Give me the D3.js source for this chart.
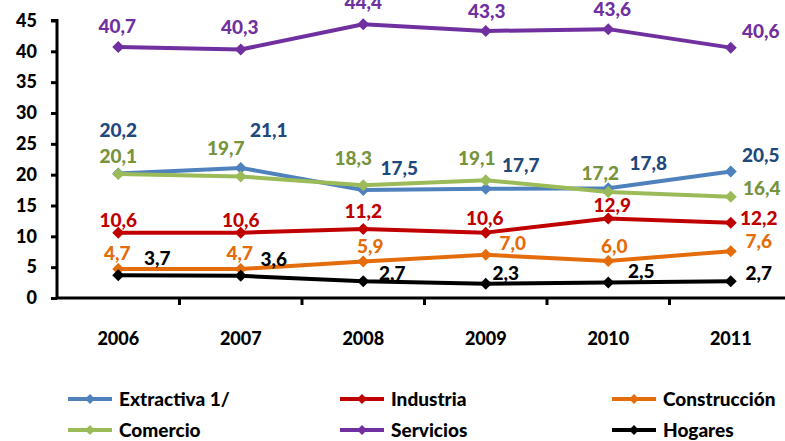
<!DOCTYPE html>
<html>
<head>
<meta charset="utf-8">
<script src="https://cdn.jsdelivr.net/npm/d3@7"></script>
<style>
  body { margin: 0; background: #fff; }
  svg text { font-family: Lato, "Open Sans", sans-serif; font-weight: 900; }
</style>
</head>
<body>
<svg id="chart" width="785" height="441"></svg>
<script>
const years = ['2006', '2007', '2008', '2009', '2010', '2011']
const yTicks = [0, 5, 10, 15, 20, 25, 30, 35, 40, 45]

const extractiva   = [20.2, 21.1, 17.5, 17.7, 17.8, 20.5]
const industria    = [10.6, 10.6, 11.2, 10.6, 12.9, 12.2]
const construccion = [4.7, 4.7, 5.9, 7.0, 6.0, 7.6]
const comercio     = [20.1, 19.7, 18.3, 19.1, 17.2, 16.4]
const servicios    = [40.7, 40.3, 44.4, 43.3, 43.6, 40.6]
const hogares      = [3.7, 3.6, 2.7, 2.3, 2.5, 2.7]

const seriesNames = ['Extractiva 1/', 'Industria', 'Construcción', 'Comercio', 'Servicios', 'Hogares']
const seriesValues = [extractiva, industria, construccion, comercio, servicios, hogares]

// line colour, label colour
const lineColors  = ['#4f81bd', '#c00000', '#e46c0a', '#9bbb59', '#7030a0', '#000000']
const labelColors = ['#1f497d', '#c00000', '#e46c0a', '#77933c', '#7030a0', '#000000']

// where each data label sits relative to its point [dx, dy]
const labelOffsets = [
    [[0, -36], [28, -31], [36, -15], [35, -17], [40, -18], [30, -10]],
    [[0, -6], [0, -6], [0, -11], [-1, -8], [4, -6], [28, 2]],
    [[-1, -9], [-1, -9], [7, -9], [27, -5], [6, -8], [28, -3]],
    [[0, -11], [-15, -22], [-10, -20], [-9, -15], [-8, -12], [31, -2]],
    [[-1, -14], [-1, -15], [0, -15], [1, -13], [4, -13], [30, -10]],
    [[39, -10], [33, -10], [29, -1], [20, -4], [33, -5], [28, -1]]
]

const svg = d3.select('#chart')

const x = d3.scaleBand().domain(years).range([57, 792])
const y = d3.scaleLinear().domain([0, 45]).range([298, 20.5])
const cx = d => x(d) + x.bandwidth() / 2

const diamond = s => `M0,${-s}L${s},0L0,${s}L${-s},0Z`

// y axis
const yAxis = svg.append('g')
    .attr('transform', 'translate(57,0)')
    .call(d3.axisLeft(y).tickValues(yTicks).tickSize(6).tickPadding(14).tickFormat(d3.format('d')))
yAxis.select('.domain').attr('stroke-width', 3).attr('d', `M-6,${y(45)}H0V${y(0)}`)
yAxis.selectAll('.tick line').attr('stroke-width', 3)
yAxis.selectAll('.tick text').attr('font-size', 18).attr('fill', '#000')

// x axis
const xAxis = svg.append('g')
    .attr('transform', `translate(0,${y(0)})`)
    .call(d3.axisBottom(x).tickSize(0).tickPadding(34))
xAxis.select('.domain').attr('stroke-width', 3).attr('d', 'M57,0H785')
xAxis.selectAll('.tick text').attr('font-size', 18).attr('fill', '#000')
xAxis.selectAll('.sep')
    .data(years.slice(1))
    .enter().append('line')
    .attr('class', 'sep')
    .attr('x1', d => x(d)).attr('x2', d => x(d))
    .attr('y1', 0).attr('y2', 7)
    .attr('stroke', '#000').attr('stroke-width', 3)

const line = d3.line()
    .x((d, i) => cx(years[i]))
    .y(d => y(d))

seriesValues.forEach((vals, s) => {
    const g = svg.append('g')
    g.append('path')
        .attr('d', line(vals))
        .attr('fill', 'none')
        .attr('stroke', lineColors[s])
        .attr('stroke-width', 4)
        .attr('stroke-linejoin', 'round')
    g.selectAll('.pt')
        .data(vals)
        .enter().append('path')
        .attr('class', 'pt')
        .attr('d', diamond(6))
        .attr('transform', (d, i) => `translate(${cx(years[i])},${y(d)})`)
        .attr('fill', lineColors[s])
})

// data labels on top
seriesValues.forEach((vals, s) => {
    svg.append('g').selectAll('text')
        .data(vals)
        .enter().append('text')
        .attr('x', (d, i) => cx(years[i]) + labelOffsets[s][i][0])
        .attr('y', (d, i) => y(d) + labelOffsets[s][i][1])
        .attr('text-anchor', 'middle')
        .attr('font-size', 19)
        .attr('fill', labelColors[s])
        .text(d => d3.format('.1f')(d).replace('.', ','))
})

// legend
const legendCols = [68, 340, 612]
const legendRows = [399, 430]
const legend = svg.append('g')
seriesNames.forEach((name, i) => {
    const lx = legendCols[i % 3]
    const ly = legendRows[Math.floor(i / 3)]
    const item = legend.append('g').attr('transform', `translate(${lx},${ly})`)
    item.append('line')
        .attr('x1', 0).attr('x2', 44)
        .attr('stroke', lineColors[i]).attr('stroke-width', 4)
    item.append('path')
        .attr('d', diamond(5))
        .attr('transform', 'translate(22,0)')
        .attr('fill', lineColors[i])
    item.append('text')
        .attr('x', 51)
        .attr('dy', '0.36em')
        .attr('font-size', 19)
        .attr('fill', '#000')
        .text(name)
})
</script>
</body>
</html>
